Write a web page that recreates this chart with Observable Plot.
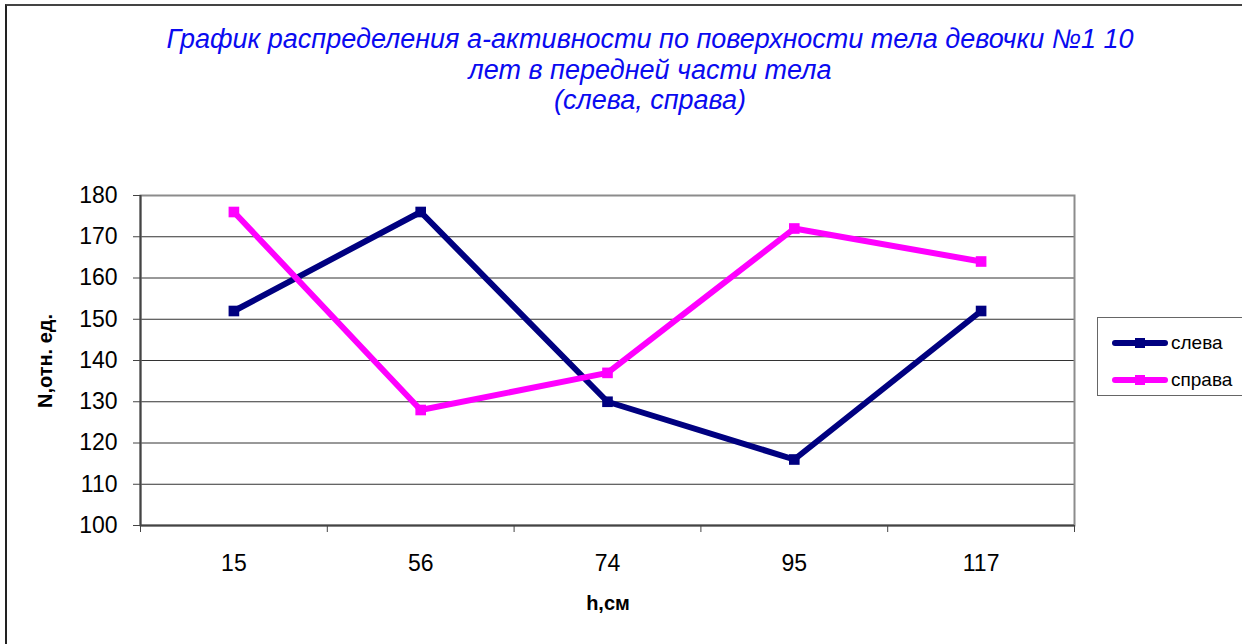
<!DOCTYPE html>
<html><head><meta charset="utf-8">
<script src="https://cdn.jsdelivr.net/npm/d3@7"></script>
<script src="https://cdn.jsdelivr.net/npm/@observablehq/plot@0.6"></script>
<style>
body{margin:0;background:#fff;font-family:Arial,"Liberation Sans",sans-serif}
#wrap{position:relative;width:1242px;height:644px;overflow:hidden;background:#fff}
#border{position:absolute;left:5px;top:4px;width:1300px;height:700px;border-left:2px solid #222;border-top:2px solid #444}
#title{position:absolute;left:0;top:24px;width:1300px;text-align:center;font-style:italic;font-size:27px;line-height:30.5px;color:#0a0af0}
#ylab{position:absolute;left:45px;top:361px;transform:translate(-50%,-50%) rotate(-90deg);font-weight:bold;font-size:20px;white-space:nowrap}
#xlab{position:absolute;left:608px;top:603px;transform:translate(-50%,-50%);font-weight:bold;font-size:20px;white-space:nowrap}
#legend{position:absolute;left:1097px;top:317px;width:150px;height:79px;border:1.5px solid #666;box-sizing:border-box}
.li{position:absolute;left:14px;height:22px;display:flex;align-items:center;font-size:19px}
.li svg{margin-right:3px}
#chart{position:absolute;left:0;top:0}
</style></head>
<body><div id="wrap"><div id="chart"></div><div id="border"></div>
<div id="title"></div><div id="ylab"></div><div id="xlab"></div><div id="legend"></div></div>
<script>
const heights = ["15", "56", "74", "95", "117"];
const leftVals = [152, 176, 130, 116, 152];
const rightVals = [176, 128, 137, 172, 164];
const seriesNames = ["слева", "справа"];
const seriesColors = ["#000080", "#ff00ff"];
const yTicks = [100, 110, 120, 130, 140, 150, 160, 170, 180];
const titleLines = ["График распределения а-активности по поверхности тела девочки №1 10", "лет в передней части тела", "(слева, справа)"];
const yLabel = "N,отн. ед.";
const xLabel = "h,см";

const data = [];
heights.forEach((h, i) => data.push({i, h, v: leftVals[i], s: seriesNames[0]}));
heights.forEach((h, i) => data.push({i, h, v: rightVals[i], s: seriesNames[1]}));
const idx = heights.map((h, i) => i);
const bounds = heights.map((h, i) => i - 0.5).concat([heights.length - 0.5]);

const plot = Plot.plot({
  width: 1242, height: 644,
  marginLeft: 140, marginRight: 168, marginTop: 195, marginBottom: 119,
  style: {fontFamily: "Arial, 'Liberation Sans', sans-serif", color: "#000", background: "transparent"},
  x: {type: "linear", domain: [-0.5, heights.length - 0.5], axis: null},
  y: {domain: [100, 180], axis: null},
  color: {domain: seriesNames, range: seriesColors},
  marks: [
    Plot.ruleY(yTicks.slice(1, -1), {stroke: "#333", strokeWidth: 1}),
    Plot.frame({stroke: "#8c8c8c", strokeWidth: 2}),
    Plot.ruleX([bounds[0]], {stroke: "#444", strokeWidth: 2}),
    Plot.ruleY([100], {stroke: "#444", strokeWidth: 2}),
    Plot.axisY({ticks: yTicks, tickSize: 7, tickPadding: 16, fontSize: 23, stroke: "#444", fill: "#000", label: null}),
    Plot.axisX({ticks: bounds, tickSize: 7, tickFormat: () => "", stroke: "#444", label: null}),
    Plot.axisX({ticks: idx, tickSize: 0, tickPadding: 29, tickFormat: i => heights[i], fontSize: 23, fill: "#000", label: null}),
    Plot.line(data, {x: "i", y: "v", z: "s", stroke: "s", strokeWidth: 6, strokeLinejoin: "round"}),
    Plot.dot(data, {x: "i", y: "v", fill: "s", symbol: "square", r: 6})
  ]
});
document.getElementById("chart").appendChild(plot);

document.getElementById("title").innerHTML = titleLines.map(t => `<div>${t}</div>`).join("");
document.getElementById("ylab").textContent = yLabel;
document.getElementById("xlab").textContent = xLabel;
const lg = document.getElementById("legend");
seriesNames.forEach((n, k) => {
  const d = document.createElement("div");
  d.className = "li";
  d.style.top = (14 + k * 37) + "px";
  d.innerHTML = `<svg width="56" height="14"><line x1="3" y1="7" x2="53" y2="7" stroke="${seriesColors[k]}" stroke-width="6" stroke-linecap="round"/><rect x="23" y="2" width="10" height="10" fill="${seriesColors[k]}"/></svg><span>${n}</span>`;
  lg.appendChild(d);
});
</script></body></html>
